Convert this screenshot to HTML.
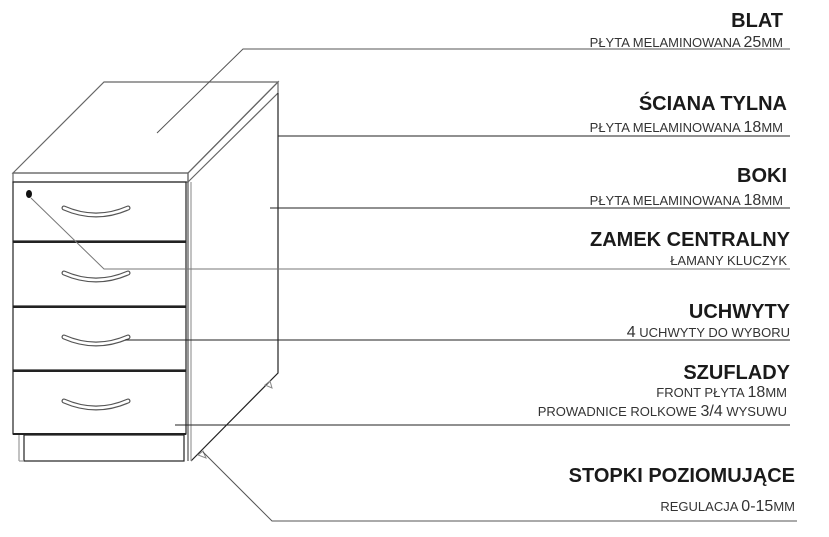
<!DOCTYPE html>
<html><head><meta charset="utf-8"><style>
html,body{margin:0;padding:0;background:#fff;}
svg{display:block;}
.h{font-family:"Liberation Sans",sans-serif;font-weight:bold;font-size:20px;fill:#1a1a1a;text-anchor:end;}
.s{font-family:"Liberation Sans",sans-serif;font-size:13px;fill:#333;text-anchor:end;}
.s tspan{font-size:16px;}
</style></head><body>
<svg width="829" height="537" viewBox="0 0 829 537" xmlns="http://www.w3.org/2000/svg">
<defs>
<g id="hd">
<path d="M0,0 Q32,14 64,0" fill="none" stroke="#555" stroke-width="5" stroke-linecap="round"/>
<path d="M0,0 Q32,14 64,0" fill="none" stroke="#fff" stroke-width="2.6" stroke-linecap="round"/>
</g>
</defs>
<g fill="none" stroke="#222" stroke-width="1.2">
<polygon points="13,173 104,82 278,82 188,173" stroke="#666"/>
<rect x="13" y="173" width="175" height="9" stroke="#666"/>
<polygon points="188,173 278,82 278,93 188,182" stroke="#666"/>
<polyline points="278,93 278,373 191,461"/>
<line x1="188" y1="182" x2="188" y2="461" stroke="#555"/>
<line x1="191" y1="182" x2="191" y2="461" stroke="#999"/>
<rect x="13" y="182" width="173" height="59"/>
<rect x="13" y="242" width="173" height="64"/>
<line x1="13" y1="242" x2="186" y2="242" stroke-width="2"/>
<rect x="13" y="307" width="173" height="63"/>
<line x1="13" y1="307" x2="186" y2="307" stroke-width="2"/>
<rect x="13" y="371" width="173" height="63"/>
<line x1="13" y1="371" x2="186" y2="371" stroke-width="2"/>
<line x1="13" y1="434" x2="186" y2="434" stroke-width="2"/>
<rect x="24" y="435" width="160" height="26"/>
<line x1="19" y1="435" x2="19" y2="461" stroke="#999"/>
<line x1="19" y1="461" x2="24" y2="461" stroke="#999"/>
<path d="M265,385 L270,381 L272,388 Z" stroke="#888" stroke-width="1"/>
<path d="M198,455 L203,451 L206,458 Z" stroke="#888" stroke-width="1"/>
</g>
<ellipse cx="29" cy="194" rx="3" ry="4" fill="#111"/>
<use href="#hd" x="64" y="208"/>
<use href="#hd" x="64" y="273"/>
<use href="#hd" x="64" y="337"/>
<use href="#hd" x="64" y="401"/>
<g fill="none" stroke="#222" stroke-width="1">
<polyline points="157,133 243,49 790,49" stroke="#555"/>
<line x1="278" y1="136" x2="790" y2="136"/>
<line x1="270" y1="208" x2="790" y2="208"/>
<polyline points="31,198 104,269 790,269" stroke="#777"/>
<line x1="125" y1="340" x2="790" y2="340"/>
<line x1="175" y1="425" x2="790" y2="425"/>
<polyline points="203,452 272,521 797,521" stroke="#555"/>
</g>
<text class="h" x="783" y="27">BLAT</text>
<text class="s" x="783" y="47">PŁYTA MELAMINOWANA <tspan>25</tspan>MM</text>
<text class="h" x="787" y="110">ŚCIANA TYLNA</text>
<text class="s" x="783" y="132">PŁYTA MELAMINOWANA <tspan>18</tspan>MM</text>
<text class="h" x="787" y="182">BOKI</text>
<text class="s" x="783" y="205">PŁYTA MELAMINOWANA <tspan>18</tspan>MM</text>
<text class="h" x="790" y="246">ZAMEK CENTRALNY</text>
<text class="s" x="787" y="265">ŁAMANY KLUCZYK</text>
<text class="h" x="790" y="318">UCHWYTY</text>
<text class="s" x="790" y="337"><tspan>4</tspan> UCHWYTY DO WYBORU</text>
<text class="h" x="790" y="379">SZUFLADY</text>
<text class="s" x="787" y="397">FRONT PŁYTA <tspan>18</tspan>MM</text>
<text class="s" x="787" y="416">PROWADNICE ROLKOWE <tspan>3/4</tspan> WYSUWU</text>
<text class="h" x="795" y="482">STOPKI POZIOMUJĄCE</text>
<text class="s" x="795" y="511">REGULACJA <tspan>0-15</tspan>MM</text>
</svg>
</body></html>
